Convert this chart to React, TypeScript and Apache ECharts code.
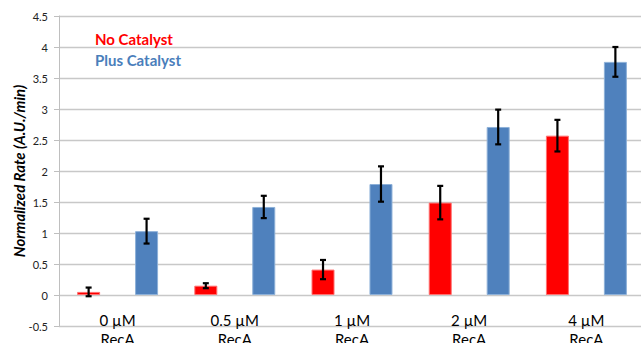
import React, { useEffect, useRef } from "react";
import * as echarts from "echarts";

const categories = ["0 µM\nRecA", "0.5 µM\nRecA", "1 µM\nRecA", "2 µM\nRecA", "4 µM\nRecA"];
const noCatalyst = [0.05, 0.15, 0.41, 1.49, 2.57];
const noCatalystErr = [0.07, 0.04, 0.155, 0.27, 0.255];
const plusCatalyst = [1.03, 1.42, 1.79, 2.71, 3.76];
const plusCatalystErr = [0.2, 0.18, 0.285, 0.28, 0.24];
const yTicks = { min: -0.5, max: 4.5, interval: 0.5 };

const RED = "#FF0000";
const BLUE = "#4F81BD";
const BAR_W = 23;
const BAR_GAP = 1.52; // fraction of bar width

function errorSeries(values: number[], errs: number[], side: number) {
  return {
    type: "custom",
    silent: true,
    z: 5,
    data: values.map((v, i) => [i, v - errs[i], v + errs[i]]),
    renderItem: (params: any, api: any) => {
      const lo = api.coord([api.value(0), api.value(1)]);
      const hi = api.coord([api.value(0), api.value(2)]);
      const offset = side * (BAR_W + BAR_W * BAR_GAP) / 2;
      const x = lo[0] + offset;
      const cap = 3;
      const style = { stroke: "#000", lineWidth: 2.2 };
      return {
        type: "group",
        children: [
          { type: "line", shape: { x1: x, y1: lo[1], x2: x, y2: hi[1] }, style },
          { type: "line", shape: { x1: x - cap, y1: lo[1], x2: x + cap, y2: lo[1] }, style },
          { type: "line", shape: { x1: x - cap, y1: hi[1], x2: x + cap, y2: hi[1] }, style },
        ],
      };
    },
  };
}

export default function App() {
  const ref = useRef<HTMLDivElement>(null);
  useEffect(() => {
    if (!ref.current) return;
    const chart = echarts.init(ref.current, null, { renderer: "svg" });
    const font = "Lato, 'Open Sans', sans-serif";
    chart.setOption({
      animation: false,
      textStyle: { fontFamily: font },
      legend: {
        orient: "vertical",
        left: 85,
        top: 26,
        itemWidth: 0,
        itemHeight: 0,
        itemGap: 6,
        icon: "none",
        selectedMode: false,
        textStyle: { fontSize: 15, fontWeight: "bold", fontFamily: font },
        data: [
          { name: "No Catalyst", textStyle: { color: RED } },
          { name: "Plus Catalyst", textStyle: { color: "#4A7EBB" } },
        ],
      },
      grid: {
        left: 59,
        top: 16,
        width: 586,
        height: 310,
        containLabel: false,
        outerBoundsMode: "none",
      },
      xAxis: {
        type: "category",
        data: categories,
        axisLine: { onZero: false, show: false },
        axisTick: { show: false },
        axisLabel: {
          fontSize: 15,
          lineHeight: 19,
          color: "#000",
          margin: -16,
          fontFamily: font,
        },
        splitLine: { show: false },
      },
      yAxis: {
        type: "value",
        min: yTicks.min,
        max: yTicks.max,
        interval: yTicks.interval,
        name: "Normalized Rate (A.U./min)",
        nameLocation: "middle",
        nameGap: 33,
        nameMoveOverlap: false,
        nameTextStyle: {
          fontSize: 15,
          fontWeight: "bold",
          fontStyle: "italic",
          color: "#000",
          fontFamily: font,
        },
        axisLine: { show: true, lineStyle: { color: "#BFBFBF" } },
        axisTick: { show: true, length: 5, lineStyle: { color: "#BFBFBF" } },
        axisLabel: { fontSize: 11, color: "#222", margin: 11, fontFamily: font },
        splitLine: { lineStyle: { color: "#C8C8C8", width: 1.3 } },
      },
      series: [
        {
          name: "No Catalyst",
          type: "bar",
          data: noCatalyst,
          barWidth: BAR_W,
          barGap: BAR_GAP * 100 + "%",
          itemStyle: { color: RED, borderColor: "#FF7070", borderWidth: 1 },
        },
        {
          name: "Plus Catalyst",
          type: "bar",
          data: plusCatalyst,
          barWidth: BAR_W,
          barGap: BAR_GAP * 100 + "%",
          itemStyle: { color: BLUE, borderColor: "#8DB0D8", borderWidth: 1 },
        },
        errorSeries(noCatalyst, noCatalystErr, -1),
        errorSeries(plusCatalyst, plusCatalystErr, 1),
      ],
    });
    return () => chart.dispose();
  }, []);
  return <div ref={ref} style={{ width: 641, height: 343, position: "absolute", left: 0, top: 0, background: "#fff" }} />;
}
